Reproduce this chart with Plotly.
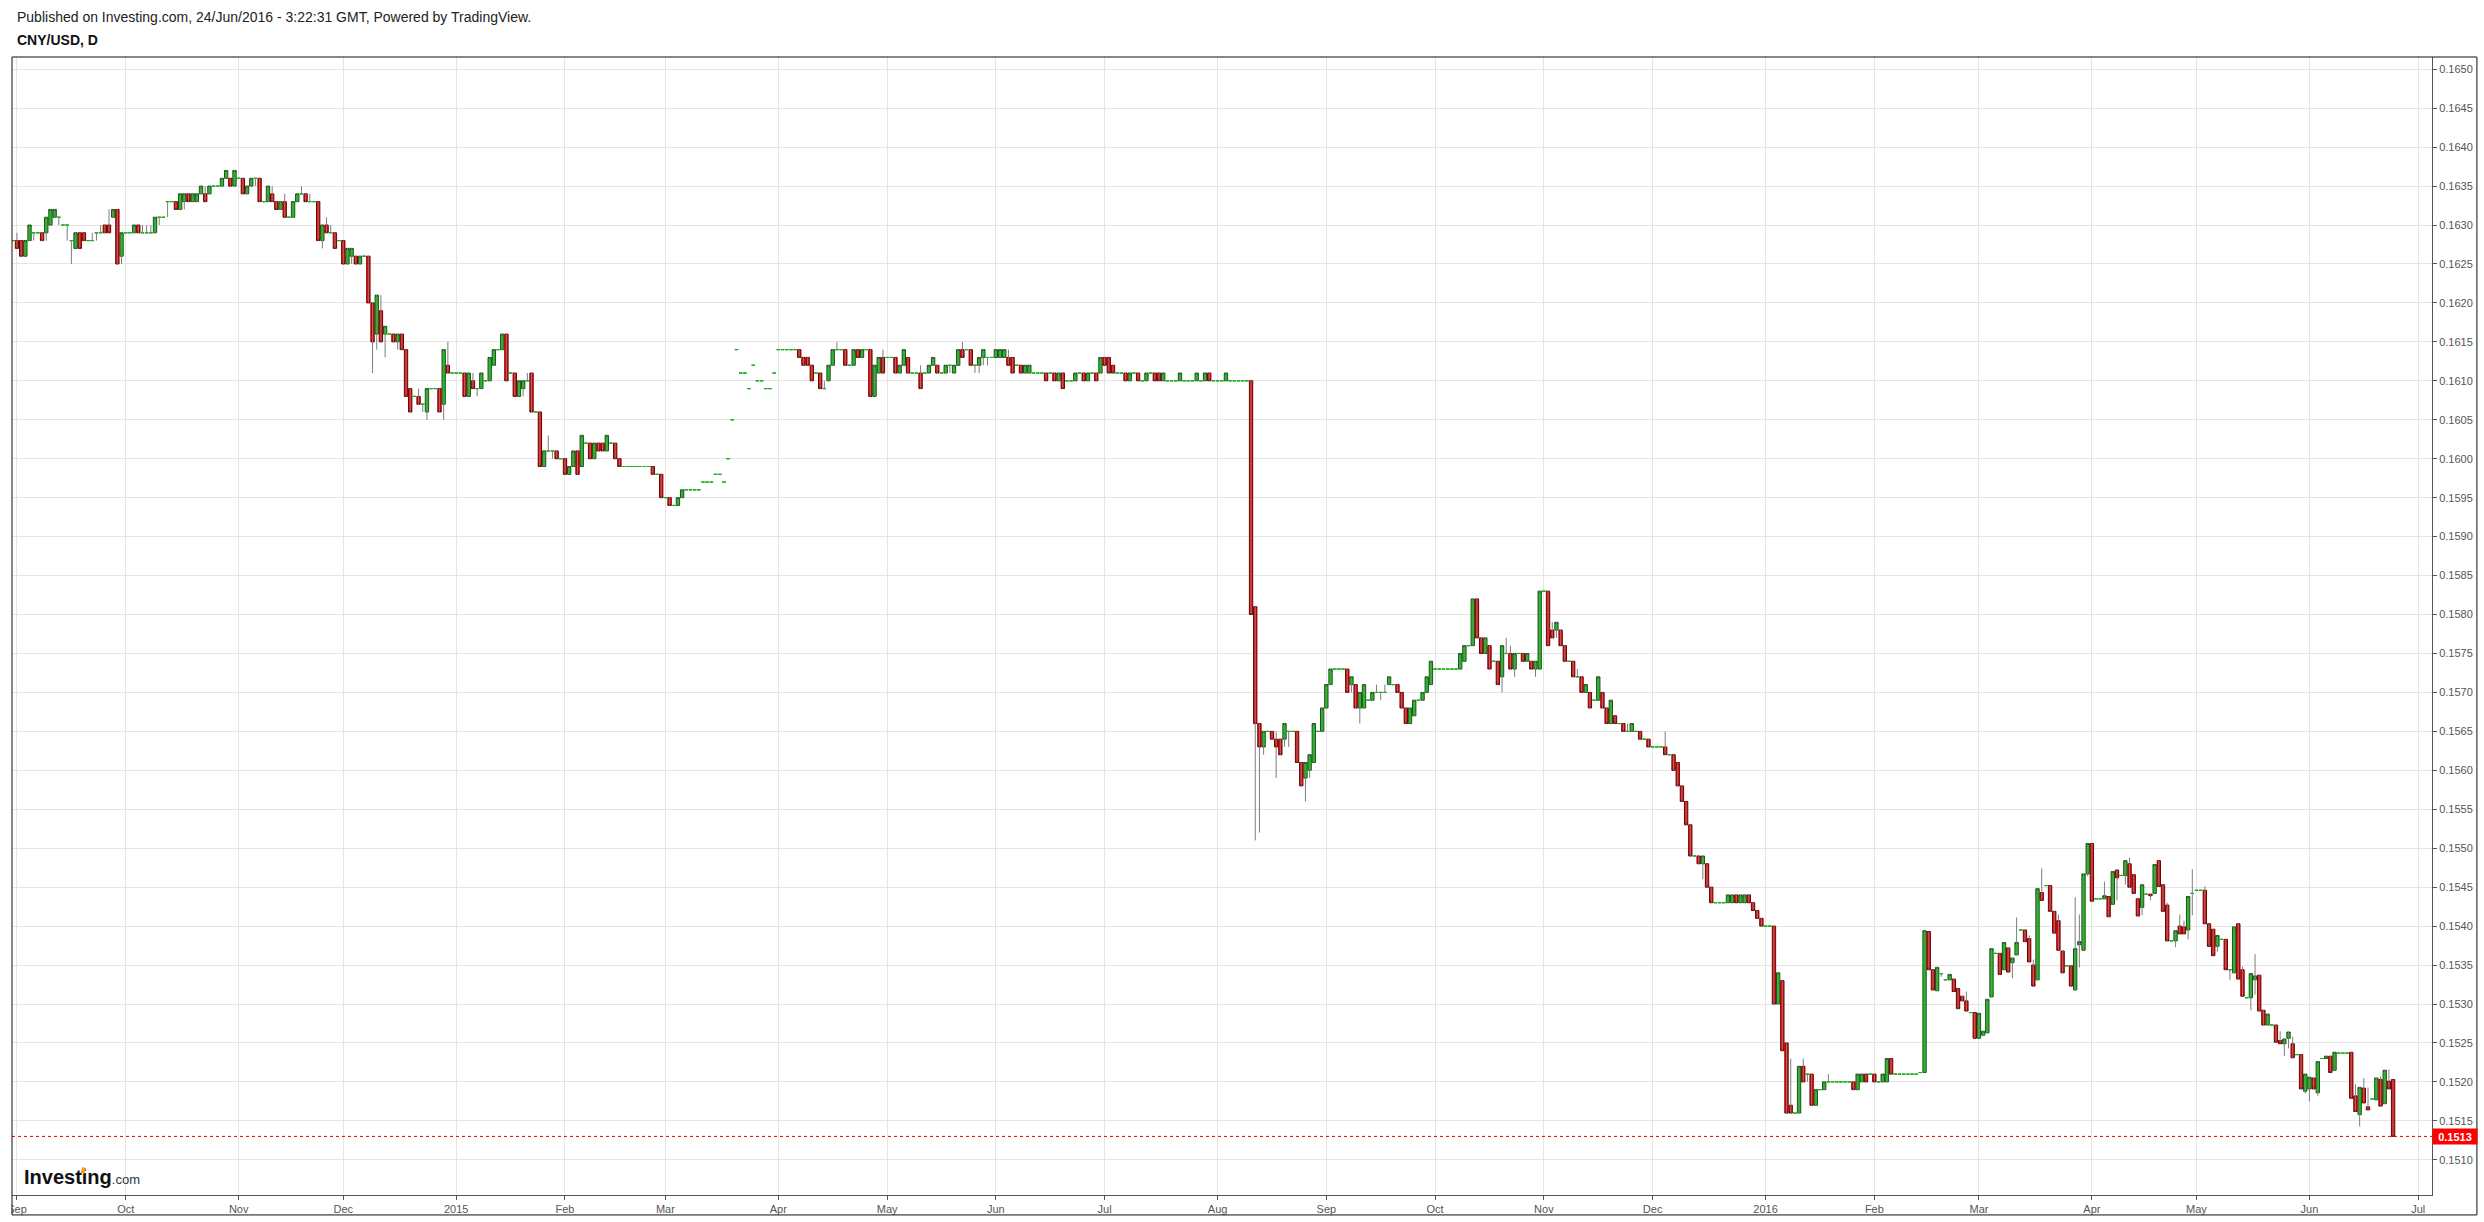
'''
    CNY/USD daily candles, Sep 2014 - Jun 2016, in the style of an
    Investing.com / TradingView snapshot.
'''
import pandas as pd
import plotly.graph_objects as go

# Prices are in pips (1 pip = 0.0001). Each bar is (open, close, high, low).
# The feed has a bar for every day except Saturday.
aug_2014 = [(1628, 1628, 1628, 1628)]

sep_2014 = [
    (1628, 1627, 1629, 1627), (1628, 1626, 1628, 1626), (1626, 1628, 1628, 1626), (1628, 1630, 1630, 1628),
    (1629, 1629, 1629, 1628), (1629, 1629, 1629, 1629), (1629, 1628, 1629, 1628), (1629, 1631, 1631, 1628),
    (1630, 1632, 1632, 1630), (1631, 1632, 1632, 1631), (1631, 1631, 1631, 1630), (1630, 1630, 1630, 1630),
    (1630, 1630, 1630, 1628), (1628, 1628, 1628, 1625), (1627, 1629, 1629, 1627), (1629, 1627, 1629, 1627),
    (1629, 1628, 1629, 1628), (1628, 1628, 1628, 1628), (1628, 1628, 1629, 1628), (1629, 1629, 1629, 1628),
    (1629, 1629, 1630, 1629), (1630, 1629, 1630, 1629), (1630, 1629, 1632, 1629), (1631, 1632, 1632, 1631),
    (1632, 1625, 1632, 1625), (1626, 1629, 1629, 1625),
]

oct_2014 = [
    (1629, 1629, 1629, 1629), (1629, 1629, 1629, 1629), (1629, 1630, 1630, 1629), (1630, 1629, 1630, 1629),
    (1629, 1629, 1630, 1629), (1629, 1629, 1630, 1629), (1629, 1629, 1630, 1629), (1629, 1631, 1631, 1629),
    (1631, 1631, 1631, 1630), (1631, 1631, 1631, 1631), (1633, 1633, 1633, 1631), (1633, 1633, 1633, 1633),
    (1633, 1632, 1633, 1632), (1632, 1634, 1634, 1632), (1633, 1634, 1634, 1632), (1634, 1633, 1634, 1633),
    (1633, 1634, 1634, 1633), (1633, 1634, 1634, 1633), (1634, 1635, 1635, 1634), (1634, 1633, 1635, 1633),
    (1634, 1635, 1635, 1634), (1635, 1635, 1635, 1635), (1635, 1635, 1635, 1635), (1635, 1636, 1636, 1635),
    (1636, 1637, 1637, 1636), (1636, 1635, 1636, 1635), (1635, 1637, 1637, 1635),
]

nov_2014 = [
    (1636, 1636, 1636, 1636), (1636, 1634, 1636, 1634), (1634, 1635, 1635, 1634), (1635, 1636, 1636, 1635),
    (1636, 1636, 1636, 1635), (1636, 1633, 1636, 1633), (1633, 1633, 1633, 1633), (1633, 1635, 1635, 1633),
    (1634, 1633, 1635, 1633), (1633, 1632, 1633, 1632), (1632, 1633, 1633, 1632), (1633, 1631, 1634, 1631),
    (1631, 1631, 1631, 1631), (1631, 1633, 1633, 1631), (1633, 1634, 1634, 1633), (1634, 1634, 1635, 1634),
    (1634, 1633, 1634, 1633), (1633, 1633, 1634, 1633), (1633, 1633, 1633, 1633), (1633, 1628, 1633, 1628),
    (1628, 1630, 1630, 1627), (1630, 1629, 1631, 1629), (1629, 1629, 1630, 1629), (1629, 1627, 1629, 1627),
    (1628, 1628, 1628, 1628),
]

dec_2014 = [
    (1628, 1625, 1628, 1625), (1625, 1627, 1627, 1625), (1626, 1627, 1627, 1625), (1626, 1625, 1626, 1625),
    (1625, 1626, 1626, 1625), (1626, 1626, 1626, 1626), (1626, 1620, 1626, 1620), (1620, 1615, 1620, 1611),
    (1616, 1621, 1621, 1614), (1619, 1615, 1621, 1615), (1616, 1617, 1617, 1613), (1616, 1616, 1616, 1616),
    (1616, 1615, 1616, 1615), (1615, 1616, 1616, 1614), (1616, 1614, 1616, 1614), (1614, 1608, 1614, 1608),
    (1609, 1606, 1609, 1606), (1608, 1608, 1608, 1608), (1608, 1607, 1609, 1607), (1607, 1607, 1607, 1606),
    (1606, 1609, 1609, 1605), (1609, 1609, 1609, 1609), (1609, 1609, 1609, 1609), (1609, 1606, 1609, 1606),
    (1607, 1614, 1614, 1605), (1612, 1611, 1615, 1611), (1611, 1611, 1611, 1611),
]

jan_2015 = [
    (1611, 1611, 1611, 1611), (1611, 1611, 1611, 1611), (1611, 1608, 1611, 1608), (1608, 1611, 1611, 1608),
    (1610, 1609, 1611, 1609), (1609, 1609, 1609, 1608), (1609, 1611, 1611, 1609), (1610, 1610, 1610, 1610),
    (1610, 1613, 1613, 1610), (1612, 1614, 1614, 1612), (1614, 1614, 1614, 1614), (1614, 1616, 1616, 1614),
    (1616, 1610, 1616, 1610), (1611, 1611, 1611, 1611), (1611, 1608, 1611, 1608), (1608, 1610, 1610, 1608),
    (1609, 1610, 1610, 1608), (1610, 1610, 1611, 1610), (1611, 1606, 1611, 1606), (1606, 1606, 1606, 1606),
    (1606, 1599, 1606, 1599), (1599, 1601, 1601, 1599), (1601, 1601, 1603, 1601), (1601, 1601, 1601, 1600),
    (1601, 1600, 1601, 1600), (1600, 1600, 1600, 1600),
]

feb_2015 = [
    (1600, 1598, 1600, 1598), (1598, 1599, 1599, 1598), (1599, 1601, 1601, 1599), (1601, 1598, 1601, 1598),
    (1599, 1603, 1603, 1599), (1602, 1602, 1602, 1602), (1602, 1600, 1602, 1600), (1600, 1602, 1602, 1600),
    (1602, 1601, 1602, 1601), (1602, 1601, 1602, 1601), (1601, 1603, 1603, 1601), (1602, 1602, 1602, 1602),
    (1602, 1600, 1602, 1600), (1600, 1599, 1600, 1599), (1599, 1599, 1599, 1599), (1599, 1599, 1599, 1599),
    (1599, 1599, 1599, 1599), (1599, 1599, 1599, 1599), (1599, 1599, 1599, 1599), (1599, 1599, 1599, 1599),
    (1599, 1599, 1599, 1599), (1599, 1598, 1599, 1598), (1598, 1598, 1598, 1598), (1598, 1595, 1598, 1595),
]

mar_2015 = [
    (1595, 1595, 1595, 1595), (1595, 1594, 1595, 1594), (1594, 1594, 1594, 1594), (1594, 1595, 1595, 1594),
    (1595, 1596, 1596, 1595), (1596, 1596, 1596, 1596), (1596, 1596, 1596, 1596), (1596, 1596, 1596, 1596),
    (1596, 1596, 1596, 1596), (1597, 1597, 1597, 1597), (1597, 1597, 1597, 1597), (1597, 1597, 1597, 1597),
    (1598, 1598, 1598, 1598), (1598, 1598, 1598, 1598), (1597, 1597, 1597, 1597), (1600, 1600, 1600, 1600),
    (1605, 1605, 1605, 1605), (1614, 1614, 1614, 1614), (1611, 1611, 1611, 1611), (1611, 1611, 1611, 1611),
    (1609, 1609, 1609, 1609), (1612, 1612, 1612, 1612), (1610, 1610, 1610, 1610), (1610, 1610, 1610, 1610),
    (1609, 1609, 1609, 1609), (1609, 1609, 1609, 1609), (1611, 1611, 1611, 1611),
]

apr_2015 = [
    (1614, 1614, 1614, 1614), (1614, 1614, 1614, 1614), (1614, 1614, 1614, 1614), (1614, 1614, 1614, 1614),
    (1614, 1614, 1614, 1614), (1614, 1613, 1614, 1613), (1613, 1612, 1613, 1612), (1613, 1612, 1613, 1612),
    (1612, 1610, 1612, 1610), (1611, 1611, 1611, 1611), (1611, 1609, 1611, 1609), (1609, 1609, 1610, 1609),
    (1610, 1612, 1612, 1610), (1612, 1614, 1614, 1612), (1614, 1614, 1615, 1614), (1614, 1614, 1614, 1614),
    (1614, 1612, 1614, 1612), (1612, 1612, 1612, 1612), (1612, 1614, 1614, 1612), (1614, 1613, 1614, 1613),
    (1613, 1614, 1614, 1613), (1614, 1614, 1614, 1614), (1614, 1608, 1614, 1608), (1608, 1612, 1612, 1608),
    (1611, 1613, 1613, 1611), (1613, 1611, 1614, 1611),
]

may_2015 = [
    (1613, 1613, 1613, 1613), (1613, 1613, 1613, 1613), (1613, 1611, 1613, 1611), (1611, 1612, 1612, 1611),
    (1612, 1614, 1614, 1612), (1613, 1611, 1613, 1611), (1611, 1611, 1611, 1611), (1611, 1611, 1611, 1611),
    (1611, 1609, 1612, 1609), (1611, 1611, 1611, 1611), (1611, 1612, 1612, 1611), (1612, 1613, 1613, 1612),
    (1612, 1611, 1612, 1611), (1611, 1611, 1611, 1611), (1611, 1612, 1612, 1611), (1612, 1612, 1612, 1611),
    (1611, 1612, 1612, 1611), (1612, 1614, 1614, 1612), (1614, 1613, 1615, 1613), (1614, 1614, 1614, 1614),
    (1614, 1612, 1614, 1612), (1612, 1612, 1612, 1611), (1612, 1613, 1613, 1611), (1613, 1614, 1614, 1612),
    (1613, 1613, 1613, 1612), (1613, 1613, 1613, 1613),
]

jun_2015 = [
    (1613, 1614, 1614, 1613), (1613, 1614, 1614, 1613), (1613, 1614, 1614, 1613), (1613, 1612, 1614, 1612),
    (1613, 1611, 1613, 1611), (1612, 1612, 1612, 1612), (1612, 1611, 1612, 1611), (1611, 1612, 1612, 1611),
    (1611, 1612, 1612, 1611), (1611, 1611, 1611, 1611), (1611, 1611, 1611, 1611), (1611, 1611, 1611, 1611),
    (1611, 1610, 1611, 1610), (1611, 1611, 1611, 1611), (1611, 1610, 1611, 1610), (1610, 1611, 1611, 1610),
    (1611, 1609, 1611, 1609), (1610, 1610, 1610, 1610), (1610, 1610, 1610, 1610), (1610, 1611, 1611, 1610),
    (1611, 1611, 1611, 1611), (1611, 1610, 1611, 1610), (1610, 1611, 1611, 1610), (1611, 1611, 1611, 1611),
    (1611, 1610, 1611, 1610), (1611, 1613, 1613, 1611),
]

jul_2015 = [
    (1613, 1612, 1613, 1612), (1613, 1611, 1613, 1611), (1612, 1611, 1612, 1611), (1611, 1611, 1611, 1611),
    (1611, 1611, 1611, 1611), (1611, 1610, 1611, 1610), (1610, 1611, 1611, 1610), (1611, 1611, 1611, 1611),
    (1611, 1610, 1611, 1610), (1610, 1610, 1610, 1610), (1610, 1611, 1611, 1610), (1611, 1611, 1611, 1611),
    (1611, 1610, 1611, 1610), (1611, 1610, 1611, 1610), (1610, 1611, 1611, 1610), (1610, 1610, 1610, 1610),
    (1610, 1610, 1610, 1610), (1610, 1610, 1610, 1610), (1610, 1611, 1611, 1610), (1610, 1610, 1610, 1610),
    (1610, 1610, 1610, 1610), (1610, 1610, 1610, 1610), (1610, 1611, 1611, 1610), (1610, 1610, 1610, 1610),
    (1610, 1611, 1611, 1610), (1611, 1610, 1611, 1610), (1610, 1610, 1610, 1610),
]

aug_2015 = [
    (1610, 1610, 1610, 1610), (1610, 1610, 1610, 1610), (1610, 1611, 1611, 1610), (1610, 1610, 1610, 1610),
    (1610, 1610, 1610, 1610), (1610, 1610, 1610, 1610), (1610, 1610, 1610, 1610), (1610, 1610, 1610, 1610),
    (1610, 1580, 1610, 1580), (1581, 1566, 1581, 1551), (1566, 1563, 1566, 1552), (1563, 1565, 1565, 1562),
    (1565, 1565, 1565, 1565), (1565, 1564, 1565, 1564), (1564, 1563, 1565, 1559), (1564, 1562, 1564, 1562),
    (1564, 1566, 1566, 1563), (1565, 1565, 1565, 1563), (1565, 1565, 1565, 1565), (1565, 1561, 1565, 1561),
    (1561, 1558, 1561, 1558), (1559, 1561, 1561, 1556), (1560, 1562, 1562, 1559), (1561, 1566, 1566, 1561),
    (1565, 1565, 1565, 1565), (1565, 1568, 1568, 1565),
]

sep_2015 = [
    (1568, 1571, 1571, 1568), (1571, 1573, 1573, 1571), (1573, 1573, 1573, 1573), (1573, 1573, 1573, 1573),
    (1573, 1573, 1573, 1573), (1573, 1570, 1573, 1570), (1571, 1572, 1572, 1570), (1571, 1568, 1571, 1568),
    (1568, 1570, 1570, 1566), (1568, 1571, 1571, 1568), (1569, 1569, 1569, 1569), (1569, 1570, 1570, 1569),
    (1570, 1570, 1571, 1570), (1570, 1570, 1570, 1569), (1570, 1570, 1571, 1570), (1571, 1572, 1572, 1571),
    (1571, 1571, 1571, 1571), (1571, 1570, 1571, 1570), (1570, 1568, 1570, 1568), (1568, 1566, 1568, 1566),
    (1566, 1568, 1568, 1566), (1567, 1569, 1569, 1567), (1569, 1569, 1569, 1569), (1569, 1570, 1570, 1569),
    (1570, 1572, 1572, 1570), (1571, 1574, 1574, 1571),
]

oct_2015 = [
    (1573, 1573, 1573, 1573), (1573, 1573, 1573, 1573), (1573, 1573, 1573, 1573), (1573, 1573, 1573, 1573),
    (1573, 1573, 1573, 1573), (1573, 1573, 1573, 1573), (1573, 1575, 1575, 1573), (1574, 1576, 1576, 1574),
    (1576, 1576, 1576, 1576), (1576, 1582, 1582, 1576), (1582, 1577, 1582, 1577), (1577, 1575, 1577, 1575),
    (1575, 1577, 1577, 1575), (1576, 1573, 1576, 1573), (1574, 1574, 1574, 1574), (1574, 1571, 1574, 1571),
    (1572, 1576, 1576, 1570), (1575, 1575, 1577, 1575), (1575, 1573, 1576, 1573), (1573, 1575, 1575, 1572),
    (1575, 1575, 1575, 1575), (1575, 1574, 1575, 1574), (1574, 1575, 1575, 1574), (1574, 1573, 1574, 1573),
    (1573, 1574, 1574, 1572), (1573, 1583, 1583, 1573),
]

nov_2015 = [
    (1583, 1583, 1583, 1583), (1583, 1576, 1583, 1576), (1578, 1577, 1579, 1577), (1578, 1579, 1579, 1577),
    (1578, 1576, 1578, 1576), (1576, 1574, 1576, 1574), (1574, 1574, 1574, 1574), (1574, 1572, 1574, 1572),
    (1572, 1572, 1573, 1572), (1572, 1570, 1572, 1570), (1570, 1571, 1571, 1570), (1570, 1568, 1570, 1568),
    (1569, 1569, 1569, 1569), (1569, 1572, 1572, 1569), (1570, 1568, 1570, 1568), (1568, 1566, 1568, 1566),
    (1566, 1569, 1569, 1566), (1567, 1566, 1567, 1566), (1566, 1566, 1566, 1566), (1566, 1565, 1566, 1565),
    (1565, 1565, 1566, 1565), (1565, 1566, 1566, 1565), (1565, 1565, 1565, 1565), (1565, 1564, 1565, 1564),
    (1564, 1564, 1564, 1564), (1564, 1563, 1564, 1563),
]

dec_2015 = [
    (1563, 1563, 1563, 1563), (1563, 1563, 1563, 1563), (1563, 1563, 1563, 1563), (1563, 1562, 1565, 1562),
    (1562, 1562, 1562, 1562), (1562, 1560, 1562, 1560), (1561, 1558, 1561, 1558), (1558, 1556, 1558, 1556),
    (1556, 1553, 1556, 1553), (1553, 1549, 1553, 1549), (1549, 1549, 1549, 1549), (1549, 1548, 1549, 1548),
    (1548, 1549, 1549, 1546), (1548, 1545, 1548, 1545), (1545, 1543, 1545, 1543), (1543, 1543, 1543, 1543),
    (1543, 1543, 1543, 1543), (1543, 1543, 1543, 1543), (1543, 1544, 1544, 1543), (1543, 1544, 1544, 1543),
    (1544, 1543, 1544, 1543), (1543, 1544, 1544, 1543), (1543, 1544, 1544, 1543), (1544, 1543, 1544, 1543),
    (1543, 1542, 1543, 1542), (1542, 1541, 1542, 1541), (1541, 1540, 1541, 1540),
]

jan_2016 = [
    (1540, 1540, 1540, 1540), (1540, 1540, 1540, 1540), (1540, 1530, 1540, 1530), (1530, 1534, 1534, 1530),
    (1533, 1524, 1533, 1524), (1525, 1516, 1525, 1516), (1517, 1516, 1523, 1516), (1516, 1516, 1516, 1516),
    (1516, 1522, 1522, 1516), (1522, 1520, 1523, 1520), (1521, 1521, 1521, 1520), (1521, 1517, 1521, 1517),
    (1517, 1519, 1519, 1517), (1519, 1519, 1519, 1519), (1519, 1520, 1520, 1519), (1520, 1520, 1521, 1520),
    (1520, 1520, 1520, 1520), (1520, 1520, 1520, 1520), (1520, 1520, 1520, 1520), (1520, 1520, 1520, 1520),
    (1520, 1520, 1520, 1520), (1520, 1519, 1520, 1519), (1519, 1521, 1521, 1519), (1520, 1521, 1521, 1520),
    (1521, 1520, 1521, 1520), (1521, 1521, 1521, 1521),
]

feb_2016 = [
    (1521, 1520, 1521, 1520), (1520, 1520, 1520, 1520), (1520, 1521, 1521, 1520), (1520, 1523, 1523, 1520),
    (1523, 1521, 1523, 1521), (1521, 1521, 1521, 1521), (1521, 1521, 1521, 1521), (1521, 1521, 1521, 1521),
    (1521, 1521, 1521, 1521), (1521, 1521, 1521, 1521), (1521, 1521, 1521, 1521), (1521.2, 1521.2, 1521.2, 1521.2),
    (1521.2, 1539.4, 1539.4, 1521.2), (1539.3, 1534.4, 1539.3, 1534.4), (1534.4, 1531.8, 1534.4, 1531.8),
    (1531.7, 1534.7, 1534.7, 1531.7), (1533.9, 1533.9, 1533.9, 1533.5), (1533.1, 1533.1, 1533.1, 1533.1),
    (1533.1, 1533.8, 1533.8, 1533.1), (1533.2, 1531.6, 1533.2, 1531.6), (1532.0, 1529.4, 1532.0, 1529.4),
    (1531.0, 1530.4, 1531.0, 1530.4), (1530.4, 1529.1, 1531.6, 1529.1), (1528.9, 1528.9, 1528.9, 1528.9),
    (1528.9, 1525.6, 1528.9, 1525.6),
]

mar_2016 = [
    (1525.6, 1528.8, 1528.8, 1525.6), (1526.0, 1526.5, 1526.5, 1526.0), (1526.3, 1530.6, 1530.6, 1526.3),
    (1530.9, 1537.1, 1537.1, 1530.9), (1536.5, 1536.5, 1536.5, 1536.5), (1536.5, 1533.8, 1536.5, 1533.8),
    (1534.4, 1537.9, 1537.9, 1534.4), (1537.2, 1534.1, 1537.2, 1534.1), (1535.3, 1535.9, 1535.9, 1533.3),
    (1536.3, 1537.9, 1541.1, 1536.3), (1539.5, 1539.5, 1539.5, 1539.5), (1539.5, 1538.0, 1539.5, 1538.0),
    (1538.4, 1535.4, 1538.8, 1535.4), (1535.0, 1532.3, 1535.7, 1532.3), (1533.1, 1544.8, 1544.8, 1533.1),
    (1544.3, 1543.3, 1547.4, 1543.3), (1545.2, 1545.2, 1545.2, 1545.2), (1545.2, 1541.9, 1545.2, 1541.9),
    (1541.9, 1539.1, 1541.9, 1539.1), (1540.7, 1536.9, 1541.5, 1536.9), (1536.8, 1534.0, 1536.8, 1534.0),
    (1534.9, 1534.9, 1534.9, 1534.9), (1534.9, 1532.3, 1534.9, 1532.3), (1531.8, 1537.1, 1543.7, 1531.8),
    (1537.6, 1538.0, 1541.5, 1534.7), (1536.9, 1546.7, 1546.7, 1536.9), (1546.7, 1550.6, 1550.6, 1546.4),
]

apr_2016 = [
    (1550.6, 1543.2, 1550.6, 1543.2), (1543.5, 1543.5, 1543.5, 1543.5), (1543.5, 1543.5, 1543.5, 1543.5),
    (1543.5, 1543.9, 1545.7, 1543.5), (1543.8, 1541.2, 1543.8, 1541.2), (1542.8, 1547.0, 1547.0, 1542.8),
    (1547.2, 1546.2, 1547.2, 1543.3), (1546.5, 1546.5, 1546.5, 1546.5), (1546.5, 1548.4, 1548.4, 1545.3),
    (1548.0, 1545.0, 1548.8, 1545.0), (1546.6, 1544.2, 1546.6, 1544.2), (1543.5, 1541.3, 1543.5, 1541.3),
    (1542.4, 1545.3, 1545.3, 1541.4), (1544.1, 1544.1, 1544.1, 1544.1), (1544.1, 1543.9, 1544.1, 1543.3),
    (1544.2, 1547.9, 1547.9, 1544.2), (1548.4, 1545.1, 1548.4, 1545.1), (1545.3, 1541.9, 1545.3, 1541.9),
    (1542.7, 1538.1, 1543.0, 1538.1), (1538.1, 1538.1, 1538.1, 1538.1), (1538.1, 1539.4, 1539.4, 1537.3),
    (1540.0, 1539.0, 1541.5, 1539.0), (1539.9, 1539.0, 1540.7, 1539.0), (1539.5, 1543.8, 1543.8, 1538.3),
    (1544.2, 1544.2, 1547.3, 1541.4),
]

may_2016 = [
    (1544.6, 1544.6, 1544.6, 1544.6), (1544.6, 1544.6, 1544.6, 1544.6), (1544.6, 1540.3, 1545.1, 1540.3),
    (1540.3, 1537.4, 1540.3, 1537.4), (1539.6, 1536.2, 1539.6, 1536.2), (1537.4, 1538.8, 1538.8, 1536.7),
    (1538.3, 1538.3, 1538.3, 1538.3), (1538.3, 1534.4, 1538.3, 1534.4), (1534.4, 1534.4, 1534.4, 1533.1),
    (1534.0, 1539.9, 1539.9, 1534.0), (1540.3, 1533.2, 1540.3, 1533.2), (1534.4, 1531.0, 1534.8, 1531.0),
    (1530.8, 1530.8, 1530.8, 1530.8), (1530.8, 1533.9, 1533.9, 1529.2), (1533.1, 1533.6, 1536.4, 1531.2),
    (1533.7, 1529.1, 1533.7, 1529.1), (1529.2, 1527.3, 1529.2, 1527.3), (1527.3, 1528.7, 1528.7, 1527.3),
    (1527.3, 1527.3, 1527.3, 1527.3), (1527.3, 1525.1, 1527.3, 1525.1), (1525.3, 1524.9, 1526.5, 1524.9),
    (1524.9, 1525.5, 1525.5, 1523.3), (1525.6, 1526.4, 1526.4, 1524.3), (1524.9, 1523.1, 1525.8, 1523.1),
    (1523.5, 1523.5, 1523.5, 1523.5), (1523.5, 1519.1, 1523.5, 1519.1), (1518.8, 1521.0, 1521.0, 1518.5),
]

jun_2016 = [
    (1519.1, 1520.6, 1520.6, 1517.5), (1520.5, 1519.1, 1520.5, 1519.1), (1518.6, 1522.6, 1522.6, 1518.2),
    (1523.0, 1523.0, 1523.0, 1523.0), (1523.0, 1523.3, 1523.3, 1523.0), (1523.3, 1521.2, 1523.3, 1521.2),
    (1521.5, 1523.8, 1523.8, 1521.5), (1523.7, 1523.7, 1523.7, 1523.7), (1523.7, 1523.7, 1523.7, 1523.7),
    (1523.7, 1523.7, 1523.7, 1523.7), (1523.8, 1517.9, 1523.8, 1517.9), (1518.2, 1516.2, 1519.7, 1516.2),
    (1515.8, 1519.3, 1519.3, 1514.3), (1519.2, 1517.3, 1520.5, 1517.3), (1516.8, 1516.4, 1519.3, 1516.4),
    (1517.8, 1517.8, 1517.8, 1517.8), (1517.7, 1520.5, 1520.5, 1517.7), (1520.3, 1516.9, 1520.7, 1516.9),
    (1517.2, 1521.5, 1521.5, 1517.2), (1520.1, 1519.1, 1521.6, 1519.1), (1520.3, 1513.0, 1520.3, 1513.0),
]

MONTHS = [
    aug_2014, sep_2014, oct_2014, nov_2014, dec_2014,
    jan_2015, feb_2015, mar_2015, apr_2015, may_2015, jun_2015,
    jul_2015, aug_2015, sep_2015, oct_2015, nov_2015, dec_2015,
    jan_2016, feb_2016, mar_2016, apr_2016, may_2016, jun_2016,
]

PIP = 0.0001
TITLE = 'Published on Investing.com, 24/Jun/2016 - 3:22:31 GMT, Powered by TradingView.'
SYMBOL = 'CNY/USD, D'

bars = [b for month in MONTHS for b in month]

# Calendar of bars: every day but Saturday, extended a little past the
# last bar so the July tick can be placed.
days = pd.date_range('2014-08-31', '2016-07-08')
days = days[days.dayofweek != 5]
assert days[len(bars) - 1] == pd.Timestamp('2016-06-24'), days[len(bars) - 1]

opens = [b[0] * PIP for b in bars]
closes = [b[1] * PIP for b in bars]
highs = [b[2] * PIP for b in bars]
lows = [b[3] * PIP for b in bars]
idx = list(range(len(bars)))

# Month ticks sit on the first bar of every month (no tick for August 2014)
tick_vals, tick_text = [], []
for i in range(1, len(days)):
    if days[i].month != days[i - 1].month:
        tick_vals.append(i)
        tick_text.append(str(days[i].year) if days[i].month == 1 else days[i].strftime('%b'))

# Pixel geometry of the snapshot
W, H = 2484, 1222
M_L, M_R, M_T, M_B = 7, 52, 57, 24
PW, PH = W - M_L - M_R, H - M_T - M_B


def px_x(x):
    return (x - M_L) / PW


def px_y(y):
    return (H - M_B - y) / PH


fig = go.Figure()

# Grey wicks first, bodies on top of them
wick_x, wick_y = [], []
for i in idx:
    if highs[i] > lows[i]:
        wick_x += [i, i, None]
        wick_y += [lows[i], highs[i], None]
fig.add_trace(go.Scatter(
    x=wick_x, y=wick_y, mode='lines',
    line=dict(color='#7d7d7d', width=1),
    hoverinfo='skip'
))


def add_bodies(sel, fill, edge):
    fig.add_trace(go.Candlestick(
        x=[idx[i] for i in sel],
        open=[opens[i] for i in sel],
        close=[closes[i] for i in sel],
        high=[max(opens[i], closes[i]) for i in sel],
        low=[min(opens[i], closes[i]) for i in sel],
        increasing=dict(fillcolor=fill, line=dict(color=edge, width=1)),
        decreasing=dict(fillcolor=fill, line=dict(color=edge, width=1)),
        whiskerwidth=0,
        hoverinfo='skip'
    ))


add_bodies([i for i in idx if closes[i] > opens[i]], '#00d800', '#1a561a')
add_bodies([i for i in idx if closes[i] < opens[i]], '#ff0000', '#720000')
add_bodies([i for i in idx if closes[i] == opens[i]], '#19b019', '#19b019')

last = closes[-1]

fig.update_layout(
    width=W, height=H,
    margin=dict(l=M_L, r=M_R, t=M_T, b=M_B),
    paper_bgcolor='white', plot_bgcolor='white',
    showlegend=False,
    boxgap=0.2, boxgroupgap=0.0,
    font=dict(family='Arial, Liberation Sans, sans-serif', size=11, color='#555'),
    xaxis=dict(
        range=[-0.19, 578.3],
        tickvals=tick_vals, ticktext=tick_text,
        showgrid=True, gridcolor='#e5e5e5', gridwidth=1,
        ticks='outside', ticklen=4, tickcolor='#555',
        showline=True, linecolor='#555', linewidth=1,
        zeroline=False, rangeslider=dict(visible=False)
    ),
    yaxis=dict(
        side='right',
        range=[0.150548, 0.165157],
        tick0=0.15, dtick=0.0005, tickformat='.4f',
        showgrid=True, gridcolor='#e5e5e5', gridwidth=1,
        ticks='outside', ticklen=4, tickcolor='#555',
        showline=True, linecolor='#555', linewidth=1,
        zeroline=False
    )
)

# Last price: dotted line across the chart and a red tag on the price axis
fig.add_shape(
    type='line', xref='paper', yref='y',
    x0=0, x1=1, y0=last, y1=last,
    line=dict(color='#e00000', width=1, dash='dot')
)
fig.add_annotation(
    text='<b>%.4f</b>' % last,
    xref='paper', yref='y', x=1.0, y=last,
    xanchor='left', yanchor='middle', showarrow=False,
    bgcolor='#ff0000', width=42, height=13, borderpad=1,
    font=dict(size=11, color='white')
)

# Mask the part of the first month label that falls outside the frame
fig.add_shape(
    type='rect', xref='paper', yref='paper',
    x0=px_x(0), x1=px_x(6.5), y0=px_y(H), y1=px_y(1199),
    fillcolor='white', line=dict(width=0), layer='above'
)

# Outer frame around chart, price axis and time axis
fig.add_shape(
    type='rect', xref='paper', yref='paper',
    x0=0, x1=px_x(2477), y0=px_y(1218), y1=1,
    line=dict(color='#111', width=1), layer='above'
)

# Header texts
fig.add_annotation(
    text=TITLE, xref='paper', yref='paper',
    x=px_x(10), y=px_y(17), xanchor='left', yanchor='middle',
    showarrow=False, font=dict(size=14, color='#222')
)
fig.add_annotation(
    text='<b>%s</b>' % SYMBOL, xref='paper', yref='paper',
    x=px_x(10), y=px_y(40), xanchor='left', yanchor='middle',
    showarrow=False, font=dict(size=14, color='#111')
)

# Investing.com watermark, bottom left
fig.add_annotation(
    text='<b>Investing</b><span style="font-size:13px;color:#333">.com</span>',
    xref='paper', yref='paper',
    x=px_x(17), y=px_y(1180), xanchor='left', yanchor='middle',
    showarrow=False, font=dict(size=20, color='#111')
)
fig.add_annotation(
    text=' ', xref='paper', yref='paper',
    x=px_x(78.6), y=px_y(1173), xanchor='center', yanchor='middle',
    showarrow=False, bgcolor='#f4a01c', width=3, height=5, borderpad=0,
    textangle=20
)

# The page body has a default margin; drop it so the figure fills the window
fig.write_html(
    'out.html',
    config={'displayModeBar': False},
    post_script="document.body.style.margin='0';"
)
